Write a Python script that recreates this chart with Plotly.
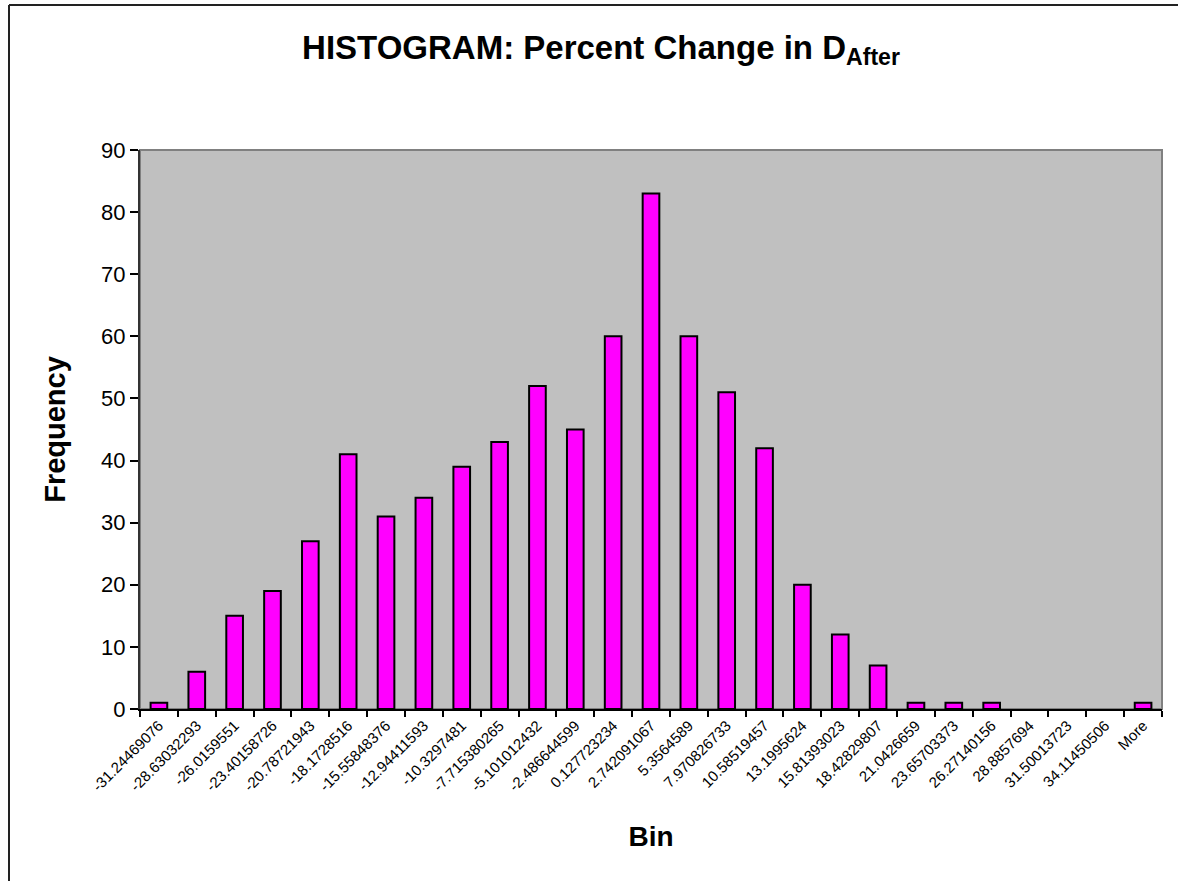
import plotly.graph_objects as go

# Histogram bins (upper bin edges as printed) and their frequencies
bins = [
    "-31.24469076", "-28.63032293", "-26.0159551", "-23.40158726", "-20.78721943",
    "-18.1728516", "-15.55848376", "-12.94411593", "-10.3297481", "-7.715380265",
    "-5.101012432", "-2.486644599", "0.127723234", "2.742091067", "5.3564589",
    "7.970826733", "10.58519457", "13.1995624", "15.81393023", "18.42829807",
    "21.0426659", "23.65703373", "26.27140156", "28.8857694", "31.50013723",
    "34.11450506", "More",
]
frequency = [1, 6, 15, 19, 27, 41, 31, 34, 39, 43, 52, 45, 60, 83, 60, 51, 42,
             20, 12, 7, 1, 1, 1, 0, 0, 0, 1]

y_ticks = list(range(0, 91, 10))

FONT = "Arial, Liberation Sans, sans-serif"

W, H = 1178, 881
L, R, T, B = 140, 16, 150, 172
pw, ph = W - L - R, H - T - B


def px_to_paper_x(px):
    return (px - L) / pw


def px_to_paper_y(py):
    return (H - B - py) / ph


# empty bins get no outline
outline_widths = [2 if v > 0 else 0 for v in frequency]

fig = go.Figure(
    go.Bar(
        x=bins,
        y=frequency,
        marker=dict(color="#FF00FF", line=dict(color="#000000", width=outline_widths)),
    )
)

fig.update_layout(
    width=W,
    height=H,
    margin=dict(l=L, r=R, t=T, b=B, pad=0),
    paper_bgcolor="#FFFFFF",
    plot_bgcolor="#C0C0C0",
    bargap=0.56,
    showlegend=False,
    font=dict(family=FONT, color="#000000"),
    title=dict(
        text="<b>HISTOGRAM: Percent Change in D<sub>After</sub></b>",
        font=dict(family=FONT, size=33, color="#000000"),
        x=601 / W,
        xanchor="center",
        xref="container",
        y=1 - 47 / H,
        yanchor="middle",
        yref="container",
    ),
    xaxis=dict(
        type="category",
        tickson="boundaries",
        ticks="outside",
        ticklen=6,
        tickwidth=1.5,
        tickcolor="#000000",
        tickangle=-45,
        tickfont=dict(family=FONT, size=15, color="#000000"),
        showline=True,
        linecolor="#000000",
        linewidth=2,
        showgrid=False,
        zeroline=False,
        title=dict(text="<b>Bin</b>", font=dict(family=FONT, size=28), standoff=33),
    ),
    yaxis=dict(
        range=[0, 90],
        tickvals=y_ticks,
        ticks="outside",
        ticklen=8,
        tickwidth=1.5,
        tickcolor="#000000",
        tickfont=dict(family=FONT, size=22, color="#000000"),
        showline=True,
        linecolor="#333333",
        linewidth=2,
        showgrid=False,
        zeroline=False,
        title=dict(text="<b>Frequency</b>", font=dict(family=FONT, size=29), standoff=27),
    ),
    shapes=[
        # plot-area border (top and right edges in grey)
        dict(type="rect", xref="paper", yref="paper", x0=0, x1=1, y0=0, y1=1,
             line=dict(color="#808080", width=2), layer="below"),
        # chart-area frame
        dict(type="line", xref="paper", yref="paper",
             x0=px_to_paper_x(9), x1=px_to_paper_x(W + 20),
             y0=px_to_paper_y(5), y1=px_to_paper_y(5),
             line=dict(color="#222222", width=2)),
        dict(type="line", xref="paper", yref="paper",
             x0=px_to_paper_x(9), x1=px_to_paper_x(9),
             y0=px_to_paper_y(5), y1=px_to_paper_y(H + 20),
             line=dict(color="#222222", width=2)),
    ],
)

fig.write_html("out.html")
